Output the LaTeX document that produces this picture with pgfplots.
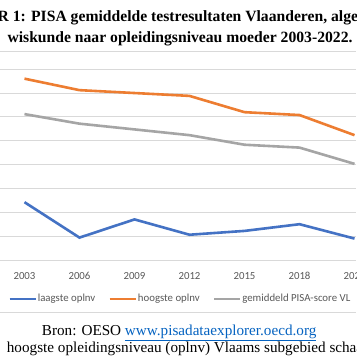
\documentclass[border=0pt]{standalone}
\usepackage{fontspec}
\setmainfont{Liberation Serif}
\newfontfamily\calibri{Carlito}
\usepackage{pgfplots}
\pgfplotsset{compat=1.18}
\definecolor{cblue}{HTML}{4472C4}
\definecolor{corange}{HTML}{ED7D31}
\definecolor{cgray}{HTML}{A5A5A5}
\definecolor{gridc}{HTML}{D9D9D9}
\definecolor{txt}{HTML}{595959}
\definecolor{linkc}{HTML}{0563C1}
\newlength\wA
\newlength\wB
\begin{document}
\settowidth\wA{\bfseries\fontsize{10}{12}\selectfont wiskunde naar opleidingsniveau moeder 2003-2022.}%
\settowidth\wB{\fontsize{10}{12}\selectfont Bron: OESO www.pisadataexplorer.oecd.org}%
\pgfmathsetmacro\tsize{10*345/\wA}%
\pgfmathsetmacro\ssize{10*274.5/\wB}%
\begin{tikzpicture}[x=1pt,y=1pt]
\useasboundingbox (0,0) rectangle (356,364);
\clip (0,0) rectangle (356,364);
\fill[white] (0,0) rectangle (356,364);
\draw[gridc, line width=1pt] (0,312) -- (356,312);
\draw[gridc, line width=1pt] (0,51) -- (356,51);
\node[font=\bfseries\fontsize{\tsize}{\tsize}\selectfont, anchor=base west, inner sep=0] at (12.7,342) {\llap{FIGUUR }1: PISA gemiddelde testresultaten Vlaanderen, algemeen};
\node[font=\bfseries\fontsize{\tsize}{\tsize}\selectfont, anchor=base west, inner sep=0] at (7.3,321.5) {wiskunde naar opleidingsniveau moeder 2003-2022.};
\node[font=\fontsize{\ssize}{\ssize}\selectfont, anchor=base west, inner sep=0] at (41.7,28) {Bron: OESO \textcolor{linkc}{\underline{www.pisadataexplorer.oecd.org}}};
\node[font=\fontsize{\ssize}{\ssize}\selectfont, anchor=base west, inner sep=0] at (6.7,11.3) {hoogste opleidingsniveau (oplnv) Vlaams subgebied schaal};
\begin{axis}[at={(0,108)}, anchor=south west, scale only axis,
  width=356pt, height=191.5pt,
  xmin=-0.445, xmax=6.027, ymin=400, ymax=600,
  axis line style={draw=none}, major tick length=0pt,
  ymajorgrids, grid style={gridc, line width=1pt},
  ytick={400,425,...,600}, yticklabels={},
  xtick={0,1,2,3,4,5,6},
  xticklabels={2003,2006,2009,2012,2015,2018,2022},
  xticklabel style={font=\calibri\fontsize{10.8}{12}\selectfont, text=txt, anchor=center, yshift=-15pt},
  clip=false,
  legend columns=3,
  legend style={at={(axis description cs:0.0225,-0.2000)}, anchor=west, draw=none, fill=none, inner sep=0pt,
    font=\calibri\fontsize{10.8}{12}\selectfont, text=txt,
    nodes={inner xsep=1pt, inner ysep=1pt},
    /tikz/every even column/.append style={column sep=12pt}},
  legend cell align=left,
  legend image code/.code={\draw[#1] (0pt,0pt) -- (26pt,0pt);},
  every axis plot/.append style={line width=2.6pt, mark=none}
]
\addplot[cblue] coordinates {(0,461) (1,424) (2,443) (3,427) (4,431) (5,438) (6,423)};
\addlegendentry{laagste oplnv}
\addplot[corange] coordinates {(0,590) (1,578) (2,575) (3,572) (4,555) (5,552) (6,531)};
\addlegendentry{hoogste oplnv}
\addplot[cgray] coordinates {(0,553) (1,543) (2,537) (3,531) (4,521) (5,518) (6,501)};
\addlegendentry{gemiddeld PISA-score VL}
\end{axis}
\end{tikzpicture}
\end{document}
